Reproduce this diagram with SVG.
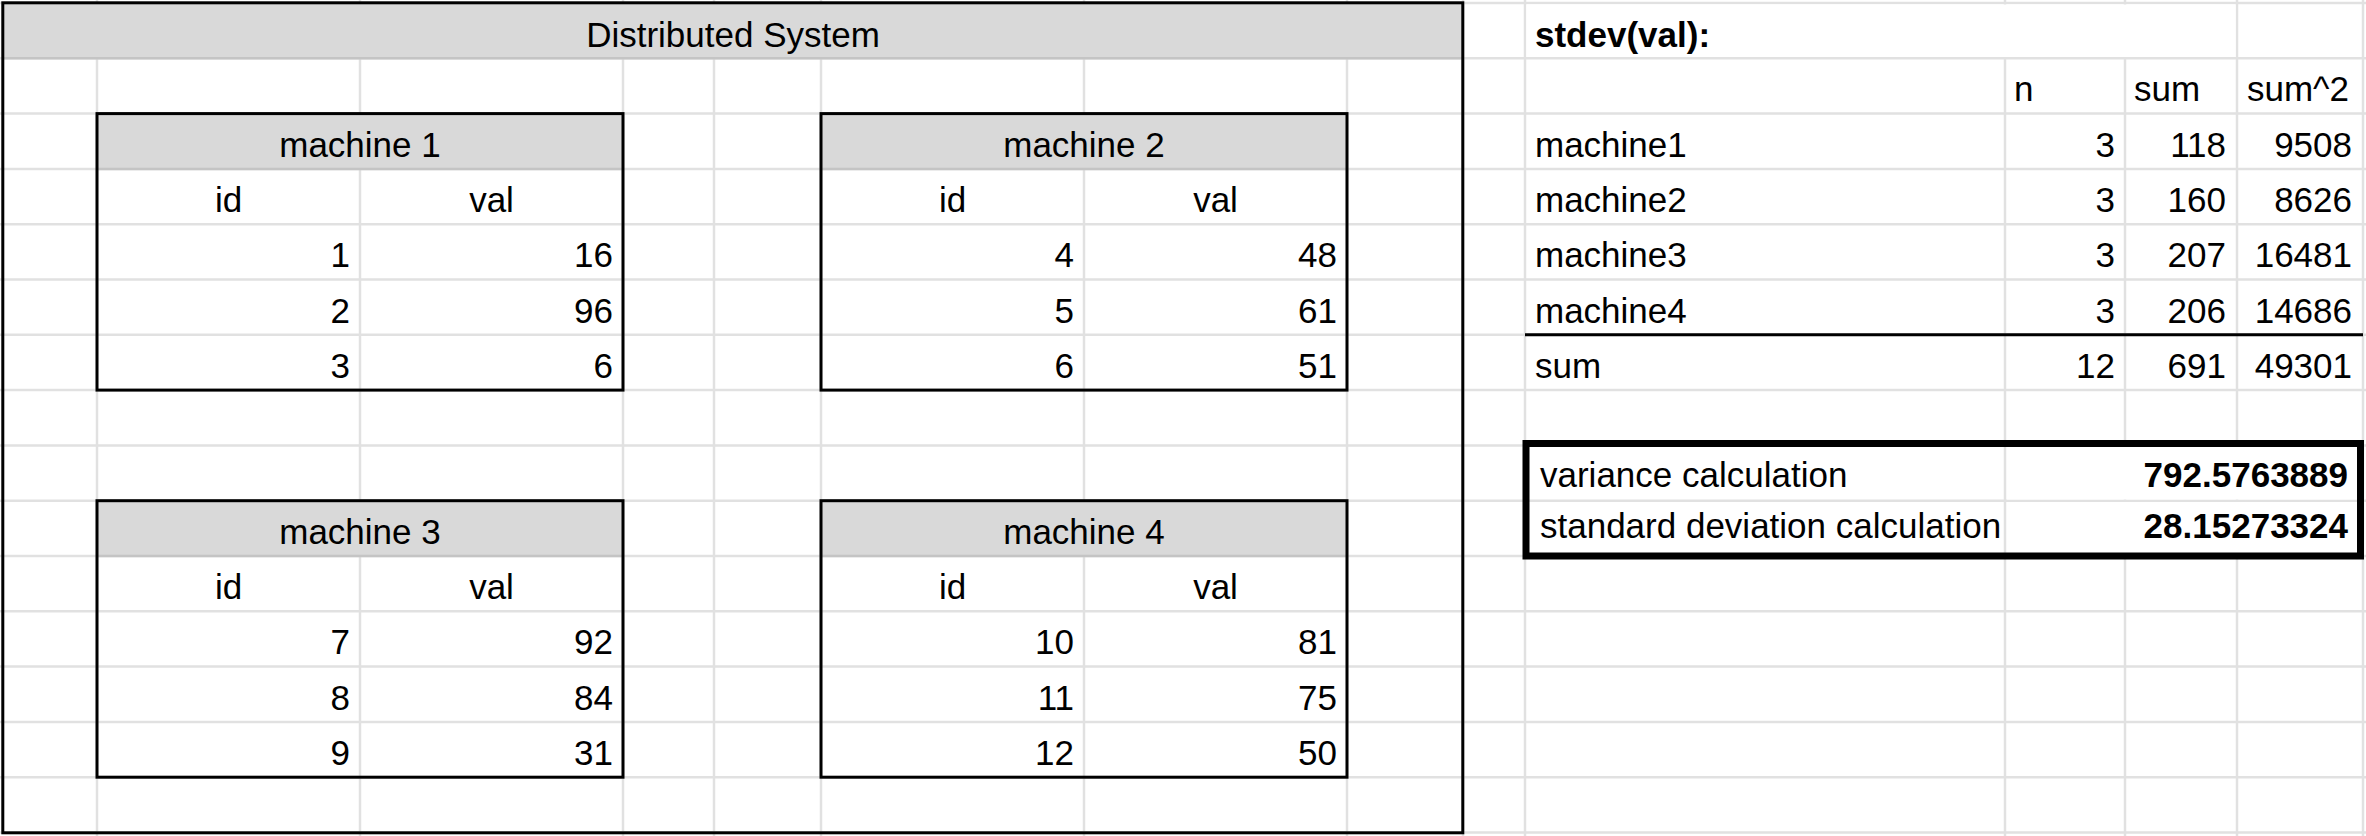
<svg xmlns="http://www.w3.org/2000/svg" width="2366" height="836" viewBox="0 0 2366 836">
<style>
  text { font-family: "Liberation Sans", Arial, sans-serif; font-size: 35px; fill: #000; }
  .c { text-anchor: middle; }
  .r { text-anchor: end; }
  .b { font-weight: bold; }
  .grid line { stroke: #e1e1e1; stroke-width: 2.5; }
  .hdr { fill: #d9d9d9; }
  .hdrline { stroke: #c4c4c4; stroke-width: 2.5; }
  .box { fill: none; stroke: #000; stroke-width: 3; }
</style>
<rect x="0" y="0" width="2366" height="836" fill="#ffffff"/>

<g id="grid" class="grid">
  <line x1="97" y1="0" x2="97" y2="836"/>
  <line x1="360" y1="0" x2="360" y2="836"/>
  <line x1="623" y1="0" x2="623" y2="836"/>
  <line x1="714" y1="0" x2="714" y2="836"/>
  <line x1="821" y1="0" x2="821" y2="836"/>
  <line x1="1084" y1="0" x2="1084" y2="836"/>
  <line x1="1347" y1="0" x2="1347" y2="836"/>
  <line x1="1463" y1="0" x2="1463" y2="836"/>
  <line x1="1525" y1="0" x2="1525" y2="836"/>
  <line x1="2005" y1="0" x2="2005" y2="836"/>
  <line x1="2125" y1="0" x2="2125" y2="836"/>
  <line x1="2237" y1="0" x2="2237" y2="836"/>
  <line x1="2363" y1="0" x2="2363" y2="836"/>
  <line x1="0" y1="3" x2="2366" y2="3"/>
  <line x1="0" y1="58.3" x2="2366" y2="58.3"/>
  <line x1="0" y1="113.6" x2="2366" y2="113.6"/>
  <line x1="0" y1="168.9" x2="2366" y2="168.9"/>
  <line x1="0" y1="224.2" x2="2366" y2="224.2"/>
  <line x1="0" y1="279.5" x2="2366" y2="279.5"/>
  <line x1="0" y1="334.8" x2="2366" y2="334.8"/>
  <line x1="0" y1="390.1" x2="2366" y2="390.1"/>
  <line x1="0" y1="445.4" x2="2366" y2="445.4"/>
  <line x1="0" y1="500.7" x2="2366" y2="500.7"/>
  <line x1="0" y1="556" x2="2366" y2="556"/>
  <line x1="0" y1="611.3" x2="2366" y2="611.3"/>
  <line x1="0" y1="666.6" x2="2366" y2="666.6"/>
  <line x1="0" y1="721.9" x2="2366" y2="721.9"/>
  <line x1="0" y1="777.2" x2="2366" y2="777.2"/>
  <line x1="0" y1="832.5" x2="2366" y2="832.5"/>
</g>

<g id="distributed-system">
  <rect class="hdr" x="3" y="3" width="1460" height="55.3"/>
  <line class="hdrline" x1="3" y1="58.3" x2="1463" y2="58.3"/>
  <rect class="box" x="2.8" y="2.8" width="1460" height="830"/>
  <text class="c" x="733" y="47">Distributed System</text>
</g>

<g id="machine-1">
  <rect class="hdr" x="97" y="113.6" width="526" height="55.3"/>
  <line class="hdrline" x1="97" y1="168.9" x2="623" y2="168.9"/>
  <rect class="box" x="97" y="113.6" width="526" height="276.5"/>
  <text class="c" x="360" y="157">machine 1</text>
  <text class="c" x="228.5" y="212">id</text>
  <text class="c" x="491.5" y="212">val</text>
  <text class="r" x="350" y="267">1</text>
  <text class="r" x="613" y="267">16</text>
  <text class="r" x="350" y="322.5">2</text>
  <text class="r" x="613" y="322.5">96</text>
  <text class="r" x="350" y="378">3</text>
  <text class="r" x="613" y="378">6</text>
</g>

<g id="machine-2">
  <rect class="hdr" x="821" y="113.6" width="526" height="55.3"/>
  <line class="hdrline" x1="821" y1="168.9" x2="1347" y2="168.9"/>
  <rect class="box" x="821" y="113.6" width="526" height="276.5"/>
  <text class="c" x="1084" y="157">machine 2</text>
  <text class="c" x="952.5" y="212">id</text>
  <text class="c" x="1215.5" y="212">val</text>
  <text class="r" x="1074" y="267">4</text>
  <text class="r" x="1337" y="267">48</text>
  <text class="r" x="1074" y="322.5">5</text>
  <text class="r" x="1337" y="322.5">61</text>
  <text class="r" x="1074" y="378">6</text>
  <text class="r" x="1337" y="378">51</text>
</g>

<g id="machine-3">
  <rect class="hdr" x="97" y="500.7" width="526" height="55.3"/>
  <line class="hdrline" x1="97" y1="556" x2="623" y2="556"/>
  <rect class="box" x="97" y="500.7" width="526" height="276.5"/>
  <text class="c" x="360" y="544">machine 3</text>
  <text class="c" x="228.5" y="599">id</text>
  <text class="c" x="491.5" y="599">val</text>
  <text class="r" x="350" y="654">7</text>
  <text class="r" x="613" y="654">92</text>
  <text class="r" x="350" y="709.5">8</text>
  <text class="r" x="613" y="709.5">84</text>
  <text class="r" x="350" y="765">9</text>
  <text class="r" x="613" y="765">31</text>
</g>

<g id="machine-4">
  <rect class="hdr" x="821" y="500.7" width="526" height="55.3"/>
  <line class="hdrline" x1="821" y1="556" x2="1347" y2="556"/>
  <rect class="box" x="821" y="500.7" width="526" height="276.5"/>
  <text class="c" x="1084" y="544">machine 4</text>
  <text class="c" x="952.5" y="599">id</text>
  <text class="c" x="1215.5" y="599">val</text>
  <text class="r" x="1074" y="654">10</text>
  <text class="r" x="1337" y="654">81</text>
  <text class="r" x="1074" y="709.5">11</text>
  <text class="r" x="1337" y="709.5">75</text>
  <text class="r" x="1074" y="765">12</text>
  <text class="r" x="1337" y="765">50</text>
</g>

<g id="stdev-table">
  <rect x="1526.5" y="4.5" width="709" height="52.5" fill="#ffffff"/>
  <text class="b" x="1535" y="47">stdev(val):</text>
  <text x="2014" y="101">n</text>
  <text x="2134" y="101">sum</text>
  <text x="2247" y="101">sum^2</text>
  <text x="1535" y="157">machine1</text>
  <text class="r" x="2115" y="157">3</text>
  <text class="r" x="2226" y="157">118</text>
  <text class="r" x="2352" y="157">9508</text>
  <text x="1535" y="212">machine2</text>
  <text class="r" x="2115" y="212">3</text>
  <text class="r" x="2226" y="212">160</text>
  <text class="r" x="2352" y="212">8626</text>
  <text x="1535" y="267">machine3</text>
  <text class="r" x="2115" y="267">3</text>
  <text class="r" x="2226" y="267">207</text>
  <text class="r" x="2352" y="267">16481</text>
  <text x="1535" y="322.5">machine4</text>
  <text class="r" x="2115" y="322.5">3</text>
  <text class="r" x="2226" y="322.5">206</text>
  <text class="r" x="2352" y="322.5">14686</text>
  <line x1="1525" y1="334.8" x2="2363" y2="334.8" stroke="#000" stroke-width="3"/>
  <text x="1535" y="378">sum</text>
  <text class="r" x="2115" y="378">12</text>
  <text class="r" x="2226" y="378">691</text>
  <text class="r" x="2352" y="378">49301</text>
</g>

<g id="result-box">
  <rect x="2007" y="446" width="352" height="53.5" fill="#ffffff"/>
  <rect x="2007" y="502" width="352" height="52" fill="#ffffff"/>
  <rect x="1526" y="443.5" width="834.5" height="112.5" fill="none" stroke="#000" stroke-width="7"/>
  <text x="1540" y="487">variance calculation</text>
  <text class="r b" x="2348" y="487">792.5763889</text>
  <text x="1540" y="538">standard deviation calculation</text>
  <text class="r b" x="2348" y="538">28.15273324</text>
</g>

<g id="connectors"/>
</svg>
